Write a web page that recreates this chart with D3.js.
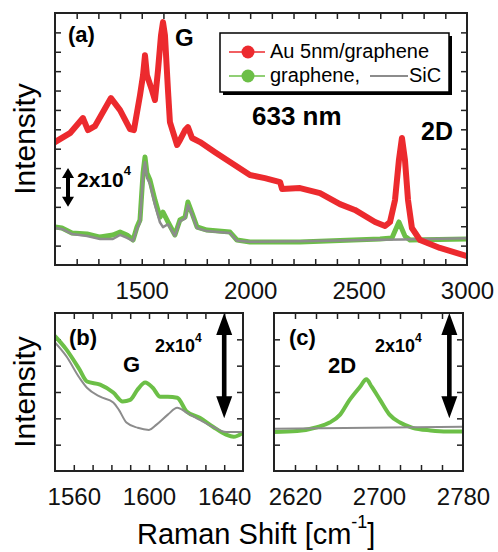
<!DOCTYPE html>
<html>
<head>
<meta charset="utf-8">
<script src="https://cdn.jsdelivr.net/npm/d3@7"></script>
<style>
  body { margin: 0; background: #fff; }
  svg { display: block; font-family: "Liberation Sans", Arial, Helvetica, sans-serif; }
  .tick line { stroke: #222; stroke-width: 1.5; }
  .frame { fill: none; stroke: #222; stroke-width: 2; }
</style>
</head>
<body>
<svg id="chart" width="498" height="552"></svg>
<script>
// Raman shift (cm^-1) and intensity (x10^4, arbitrary offset)
var auShift = [1100,1169,1229,1252,1284,1358,1400,1446,1464,1492,1506,1515,1524,1547,1561,1575,1589,1598,1607,1621,1630,1663,1676,1700,1713,1732,1769,1838,1907,1999,2068,2138,2147,2230,2322,2414,2483,2576,2622,2645,2668,2686,2700,2714,2728,2746,2783,2875,3000];
var auInt   = [6.34,6.80,7.58,6.96,7.16,8.61,7.99,7.01,6.96,8.76,9.79,10.82,9.79,9.02,8.51,10.05,11.86,12.53,11.86,9.02,7.37,6.19,6.44,6.96,7.11,6.55,6.34,5.82,5.31,4.64,4.48,4.28,3.92,3.97,3.71,3.14,2.84,2.22,2.01,2.22,3.35,5.41,6.55,5.41,3.35,1.91,1.29,0.88,0.46];

var grShift = [1100,1132,1178,1248,1308,1367,1400,1432,1460,1478,1492,1506,1515,1524,1538,1561,1584,1598,1621,1653,1676,1700,1713,1732,1755,1801,1907,1939,1999,2230,2599,2654,2686,2714,2737,3000];
var grInt   = [1.96,1.91,1.65,1.60,1.44,1.55,1.70,1.55,1.29,1.96,2.32,4.74,5.57,4.74,4.38,3.35,2.47,2.73,2.22,1.55,2.32,2.47,3.25,2.68,1.96,1.80,1.70,1.29,1.19,1.19,1.34,1.39,2.22,1.49,1.29,1.34];

var sicShift = [1100,1132,1178,1248,1308,1367,1400,1432,1460,1478,1492,1506,1515,1524,1538,1561,1584,1598,1621,1653,1676,1700,1713,1732,1755,1801,1907,1939,1999,2230,2599,2700,3000];
var sicInt   = [1.91,1.86,1.60,1.50,1.34,1.34,1.55,1.40,1.24,1.86,2.20,4.60,5.30,4.50,4.20,3.10,2.20,1.95,2.10,1.50,2.25,2.40,3.10,2.60,1.90,1.75,1.65,1.25,1.20,1.22,1.30,1.32,1.38];

// (b) G region, intensity x10^4
var gShift    = [1550,1556,1563,1567,1574,1581,1586,1590,1594,1598,1602,1606,1610,1615,1620,1627,1634,1641,1645,1650];
var gGraphene = [2.56,2.31,1.93,1.70,1.64,1.49,1.32,1.35,1.55,1.68,1.58,1.41,1.41,1.39,1.13,1.01,0.84,0.69,0.65,0.73];
var gSicShift = [1550,1556,1563,1567,1574,1581,1584,1588,1594,1600,1604,1610,1615,1620,1627,1634,1641,1650];
var gSic      = [2.44,2.18,1.77,1.58,1.41,1.30,1.16,0.92,0.82,0.78,0.88,1.07,1.20,1.11,0.97,0.84,0.74,0.74];

// (c) 2D region, intensity x10^4
var dShift    = [2600,2622,2641,2653,2663,2672,2682,2688,2693,2701,2710,2720,2732,2749,2765,2780];
var dGraphene = [0.74,0.76,0.83,0.92,1.07,1.35,1.60,1.74,1.60,1.35,1.07,0.92,0.82,0.77,0.75,0.75];
var dSicShift = [2600,2780];
var dSic      = [0.80,0.84];

var topTicks = [1500,2000,2500,3000];
var bTicks = [1560,1600,1640];
var cTicks = [2620,2700,2780];

var red = "#ec2a2e", green = "#6cbf47", gray = "#8c8c8c";

var svg = d3.select("#chart");

function zip(xs, ys) { return xs.map(function(x, i) { return [x, ys[i]]; }); }

function panel(box, xDomain, yDomain, xMinor, yMinor, xLabels) {
    var x = d3.scaleLinear().domain(xDomain).range([box.left, box.right]);
    var y = d3.scaleLinear().domain(yDomain).range([box.bottom, box.top]);
    var g = svg.append("g");
    var ins = 6;
    // inward ticks on all four sides
    g.append("g").attr("transform", "translate(0," + box.bottom + ")")
        .call(d3.axisBottom(x).tickValues(xMinor).tickSize(-ins).tickFormat(""));
    g.append("g").attr("transform", "translate(0," + box.top + ")")
        .call(d3.axisTop(x).tickValues(xMinor).tickSize(-ins).tickFormat(""));
    g.append("g").attr("transform", "translate(" + box.left + ",0)")
        .call(d3.axisLeft(y).tickValues(yMinor).tickSize(-ins).tickFormat(""));
    g.append("g").attr("transform", "translate(" + box.right + ",0)")
        .call(d3.axisRight(y).tickValues(yMinor).tickSize(-ins).tickFormat(""));
    var lab = g.append("g").attr("transform", "translate(0," + box.bottom + ")")
        .call(d3.axisBottom(x).tickValues(xLabels).tickSize(0).tickPadding(17).tickFormat(d3.format("d")));
    lab.selectAll("text").attr("font-size", 24).attr("font-family", null).attr("fill", "#111");
    g.selectAll(".domain").remove();
    var clip = "clip" + Math.round(box.left) + "_" + Math.round(box.top);
    svg.append("clipPath").attr("id", clip).append("rect")
        .attr("x", box.left).attr("y", box.top)
        .attr("width", box.right - box.left).attr("height", box.bottom - box.top);
    var plot = svg.append("g").attr("clip-path", "url(#" + clip + ")");
    return {x: x, y: y, g: g, plot: plot, box: box};
}

function curve(p, xs, ys, color, w, smooth) {
    var line = d3.line().x(function(d) { return p.x(d[0]); }).y(function(d) { return p.y(d[1]); })
        .curve(smooth ? d3.curveMonotoneX : d3.curveLinear);
    p.plot.append("path").datum(zip(xs, ys))
        .attr("d", line)
        .attr("fill", "none").attr("stroke", color).attr("stroke-width", w)
        .attr("stroke-linejoin", "round").attr("stroke-linecap", "round");
}

function frame(p) {
    svg.append("rect").attr("class", "frame")
        .attr("x", p.box.left).attr("y", p.box.top)
        .attr("width", p.box.right - p.box.left).attr("height", p.box.bottom - p.box.top);
}

function arrow(p, xv, y0, y1, head, hw, sw) {
    var x = p.x(xv), ya = p.y(y1), yb = p.y(y0);
    var d = "M" + x + "," + ya +
        "L" + (x + hw) + "," + (ya + head) + "L" + (x + sw) + "," + (ya + head) +
        "L" + (x + sw) + "," + (yb - head) + "L" + (x + hw) + "," + (yb - head) +
        "L" + x + "," + yb +
        "L" + (x - hw) + "," + (yb - head) + "L" + (x - sw) + "," + (yb - head) +
        "L" + (x - sw) + "," + (ya + head) + "L" + (x - hw) + "," + (ya + head) + "Z";
    svg.append("path").attr("d", d).attr("fill", "#000");
}

function text(x, y, s, size, bold, anchor) {
    return svg.append("text").attr("x", x).attr("y", y).text(s)
        .attr("font-size", size).attr("font-weight", bold ? "bold" : null)
        .attr("text-anchor", anchor || "start").attr("fill", "#000");
}

function power(x, y, size, supSize) {
    var t = text(x, y, "2x10", size, true);
    t.append("tspan").attr("dy", -size * 0.55).attr("font-size", supSize).text("4");
}

// ---- (a) full spectrum ----
var a = panel({left: 55, right: 467, top: 13, bottom: 265}, [1100, 3000], [0, 13],
    d3.range(1200, 3000, 100), d3.range(1, 13), topTicks);
curve(a, grShift, grInt, green, 5);
curve(a, sicShift, sicInt, gray, 2.5);
curve(a, auShift, auInt, red, 6);
frame(a);
arrow(a, 1160, 3, 5, 10, 6, 2);

text(68, 42, "(a)", 22, true);
text(175, 46, "G", 24, true);
text(252, 125, "633 nm", 26, true);
text(421, 140, "2D", 25, true);
power(77, 187, 21, 13);

// legend
var lg = svg.append("g");
lg.append("rect").attr("x", 223).attr("y", 36).attr("width", 229).attr("height", 59).attr("fill", "#000");
lg.append("rect").attr("x", 220).attr("y", 33).attr("width", 229).attr("height", 59)
    .attr("fill", "#fff").attr("stroke", "#000").attr("stroke-width", 1.5);
lg.append("line").attr("x1", 229).attr("x2", 265).attr("y1", 52).attr("y2", 52).attr("stroke", red).attr("stroke-width", 1.5);
lg.append("circle").attr("cx", 248).attr("cy", 52).attr("r", 6.5).attr("fill", red);
lg.append("line").attr("x1", 229).attr("x2", 265).attr("y1", 76).attr("y2", 76).attr("stroke", green).attr("stroke-width", 1.5);
lg.append("circle").attr("cx", 248).attr("cy", 76).attr("r", 6.5).attr("fill", green);
lg.append("line").attr("x1", 370).attr("x2", 408).attr("y1", 76).attr("y2", 76).attr("stroke", gray).attr("stroke-width", 2);
text(270, 58, "Au 5nm/graphene", 20);
text(270, 82, "graphene,", 20);
text(409, 82, "SiC", 20);

// ---- (b) G band ----
var b = panel({left: 55, right: 243, top: 313, bottom: 471}, [1550, 1650], [0, 3],
    d3.range(1560, 1650, 10), d3.range(0.5, 3, 0.5), bTicks);
curve(b, gShift, gGraphene, green, 4, true);
curve(b, gSicShift, gSic, gray, 2, true);
frame(b);
arrow(b, 1640, 1, 3, 22, 8, 2.3);
text(69, 345, "(b)", 22, true);
text(123, 372, "G", 22, true);
power(155, 352, 18, 12);

// ---- (c) 2D band ----
var c = panel({left: 274, right: 463, top: 313, bottom: 471}, [2600, 2780], [0, 3],
    d3.range(2620, 2780, 20), d3.range(0.5, 3, 0.5), cTicks);
curve(c, dShift, dGraphene, green, 4, true);
curve(c, dSicShift, dSic, gray, 2);
frame(c);
arrow(c, 2767, 1, 3, 22, 8, 2.3);
text(289, 345, "(c)", 22, true);
text(328, 373, "2D", 22, true);
power(375, 352, 18, 12);

// axis titles
svg.append("text").attr("transform", "translate(35,139) rotate(-90)")
    .attr("text-anchor", "middle").attr("font-size", 30).text("Intensity");
svg.append("text").attr("transform", "translate(35,392) rotate(-90)")
    .attr("text-anchor", "middle").attr("font-size", 30).text("Intensity");
var xt = svg.append("text").attr("x", 137).attr("y", 544).attr("font-size", 29).text("Raman Shift [cm");
xt.append("tspan").attr("dy", -16).attr("font-size", 18).text("-1");
xt.append("tspan").attr("dy", 16).text("]");
</script>
</body>
</html>
